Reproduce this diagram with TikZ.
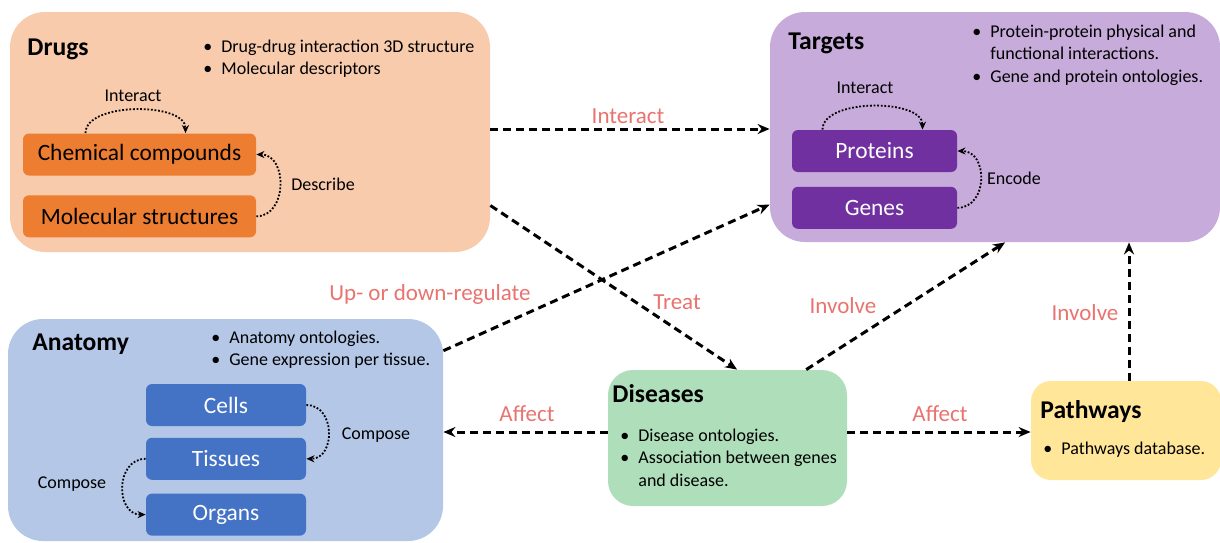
\documentclass[tikz,border=0pt]{standalone}
\usepackage{fontspec}
\setmainfont{Carlito}
\usetikzlibrary{positioning, arrows.meta}
\definecolor{drugbg}{HTML}{F8CBAD}
\definecolor{drugitem}{HTML}{ED7D31}
\definecolor{targetbg}{HTML}{C7ABDA}
\definecolor{targetitem}{HTML}{7030A0}
\definecolor{anatbg}{HTML}{B4C7E7}
\definecolor{anatitem}{HTML}{4472C4}
\definecolor{diseasebg}{HTML}{AEDFBA}
\definecolor{pathbg}{HTML}{FFE699}
\definecolor{relred}{HTML}{E8736F}
\newcommand{\bul}{\makebox[9pt][l]{\textbullet}}
\newcommand{\ind}{\hspace*{9pt}}
\newcommand{\lines}[1]{\begin{tabular}[t]{@{}l@{}}#1\end{tabular}}
\tikzset {
    x=0.5pt, y=-0.5pt,
    >={Stealth[length=6pt, width=5pt]},
    node distance=9.5pt,
    group/.style={rounded corners=17.5pt, inner sep=0pt},
    item/.style={rounded corners=3pt, inner sep=0pt, minimum height=21pt, font=\fontsize{11.7}{14}\selectfont},
    title/.style={anchor=base west, inner sep=0pt, font=\bfseries\fontsize{12.8}{15}\selectfont},
    notes/.style={anchor=base west, inner sep=0pt, font=\fontsize{9}{11.25}\selectfont},
    small/.style={inner sep=0pt, font=\fontsize{9}{11}\selectfont},
    rel/.style={inner sep=0pt, text=relred, font=\fontsize{11.5}{14}\selectfont},
    link/.style={->, line width=1.5pt, dash pattern=on 4pt off 2.5pt},
    loopy/.style={-{Stealth[length=4pt, width=3.5pt]}, line width=0.9pt, dash pattern=on 0.9pt off 0.9pt}
}
\begin{document}
\begin{tikzpicture}
    \useasboundingbox (0,0) rectangle (1220,542);

    \node[group, fill=drugbg, minimum width=240pt, minimum height=120pt] (drugs) at (250,132) {};
    \node[group, fill=targetbg, minimum width=225pt, minimum height=115pt] (targets) at (995,127) {};
    \node[group, fill=anatbg, minimum width=217.5pt, minimum height=111pt] (anatomy) at (225.5,430) {};
    \node[group, fill=diseasebg, rounded corners=12.5pt, minimum width=119.5pt, minimum height=68pt] (diseases) at (727.5,438) {};
    \node[group, fill=pathbg, rounded corners=10pt, minimum width=95pt, minimum height=49.5pt] (pathways) at (1126,430.5) {};

    \node[title] (drugst) at (27,55) {Drugs};
    \node[title] (targetst) at (788,49) {Targets};
    \node[title] (anatomyt) at (32,350) {Anatomy};
    \node[title] (diseasest) at (612,402) {Diseases};
    \node[title] (pathwayst) at (1040,418) {Pathways};

    \node[notes] (drugsn) at (203,52) {\lines{\bul Drug-drug interaction 3D structure\\ \bul Molecular descriptors}};
    \node[notes] (targetsn) at (972,37) {\lines{\bul Protein-protein physical and\\ \ind functional interactions.\\ \bul Gene and protein ontologies.}};
    \node[notes] (anatomyn) at (211,343) {\lines{\bul Anatomy ontologies.\\ \bul Gene expression per tissue.}};
    \node[notes] (diseasesn) at (620,441) {\lines{\bul Disease ontologies.\\ \bul Association between genes\\ \ind and disease.}};
    \node[notes] (pathwaysn) at (1043,454) {\lines{\bul Pathways database.}};

    \node[item, fill=drugitem, minimum width=116.5pt] (chem) at (139.5,154.5) {Chemical compounds};
    \node[item, fill=drugitem, minimum width=116.5pt, below=9.5pt of chem] (mol) {Molecular structures};
    \node[item, fill=targetitem, text=white, minimum width=82.5pt] (prot) at (874.5,151) {Proteins};
    \node[item, fill=targetitem, text=white, minimum width=82.5pt, below=7pt of prot] (genes) {Genes};
    \node[item, fill=anatitem, text=white, minimum width=80pt] (cells) at (226,405) {Cells};
    \node[item, fill=anatitem, text=white, minimum width=80pt, below=5.5pt of cells] (tissues) {Tissues};
    \node[item, fill=anatitem, text=white, minimum width=80pt, below=6.5pt of tissues] (organs) {Organs};

    \draw[loopy] ([xshift=-27pt]chem.north) to[out=90, in=90, looseness=0.8] ([xshift=23pt]chem.north);
    \draw[loopy] (mol.east) to[out=0, in=0, looseness=1.3] (chem.east);
    \draw[loopy] ([xshift=-26pt]prot.north) to[out=90, in=90, looseness=0.8] ([xshift=24pt]prot.north);
    \draw[loopy] (genes.east) to[out=0, in=0, looseness=1.4] (prot.east);
    \draw[loopy] (cells.east) to[out=0, in=0, looseness=1.4] (tissues.east);
    \draw[loopy] (tissues.west) to[out=180, in=180, looseness=1.4] (organs.west);

    \node[small] (interact1) at (133,96) {Interact};
    \node[small] (describe) at (323,184) {Describe};
    \node[small] (interact2) at (865,88) {Interact};
    \node[small] (encode) at (1014,178) {Encode};
    \node[small] (compose1) at (376,435) {Compose};
    \node[small] (compose2) at (72,484) {Compose};

    \draw[link] ([yshift=1.5pt]drugs.east) -- ([yshift=1.5pt]drugs.east -| targets.west);
    \draw[link] (drugs.-17) -- (diseases.82);
    \draw[link] (anatomy.20.7) -- (targets.199);
    \draw[link] (diseases.41.7) -- (targets.-85);
    \draw[link] ([xshift=1.5pt]pathways.north) -- ([xshift=1.5pt]pathways.north |- targets.south);
    \draw[link] ([yshift=3pt]diseases.west) -- ([yshift=3pt]diseases.west -| anatomy.east);
    \draw[link] ([yshift=3pt]diseases.east) -- ([yshift=3pt]diseases.east -| pathways.west);

    \node[rel] (interactl) at (628,116) {Interact};
    \node[rel] (treatl) at (677,302) {Treat};
    \node[rel] (regulatel) at (430,294) {Up- or down-regulate};
    \node[rel] (involvel1) at (843,306) {Involve};
    \node[rel] (involvel2) at (1085,313) {Involve};
    \node[rel] (affectl1) at (527,414) {Affect};
    \node[rel] (affectl2) at (940,414) {Affect};
\end{tikzpicture}
\end{document}
